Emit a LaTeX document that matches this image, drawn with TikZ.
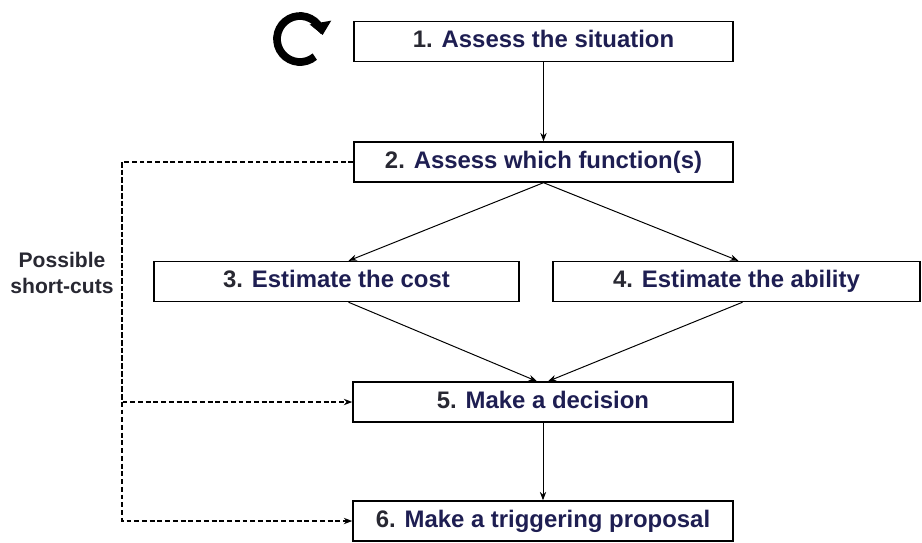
\documentclass[tikz,border=0pt]{standalone}
\usepackage{fontspec}
\setmainfont{Liberation Sans}
\usetikzlibrary{arrows.meta}
\definecolor{navy}{RGB}{30,30,82}
\definecolor{numgray}{RGB}{40,40,50}
\newcommand{\stepnum}[1]{{\color{numgray}#1}}
\begin{document}
\begin{tikzpicture}[x=0.025cm,y=0.025cm,>={Stealth[length=6pt,width=4.5pt]},line width=0.7pt,
  stepbox/.style={draw,line width=1pt,minimum height=1cm,inner sep=0pt,
    text height=12.5pt,text depth=3.5pt,
    font=\fontsize{17}{20}\selectfont\bfseries,text=navy},
  shortcut/.style={dash pattern=on 3.5pt off 2pt,line width=0.9pt}]
\useasboundingbox (0,0) rectangle (922,-542);

\node[stepbox,minimum width=9.475cm] (s1) at (543.5,-41.5) {\stepnum{1.} Assess the situation};
\node[stepbox,minimum width=9.475cm] (s2) at (543.5,-162) {\stepnum{2.} Assess which function(s)};
\node[stepbox,minimum width=9.125cm] (s3) at (336.5,-281.5) {\stepnum{3.} Estimate the cost};
\node[stepbox,minimum width=9.175cm] (s4) at (736.5,-281.5) {\stepnum{4.} Estimate the ability};
\node[stepbox,minimum width=9.5cm] (s5) at (543,-402) {\stepnum{5.} Make a decision};
\node[stepbox,minimum width=9.5cm] (s6) at (543,-521) {\stepnum{6.} Make a triggering proposal};
\node[align=center,font=\fontsize{15}{18}\selectfont\bfseries,text=numgray] (ps) at (62,-273) {Possible\\short-cuts};

% cycle symbol
\draw[line width=5.5pt,-{Triangle[length=9pt,width=15pt]}] (300,-39) ++(-50:23) arc[start angle=-50,end angle=-350,radius=23];

\draw[->] (s1) -- (s2);
\draw[->] (s2.south) -- ([xshift=0.3cm]s3.north);
\draw[->] (s2.south) -- ([xshift=0.05cm]s4.north);
\draw[->] ([xshift=0.3cm]s3.south) -- ([xshift=-0.15cm]s5.north);
\draw[->] ([xshift=0.15cm]s4.south) -- ([xshift=0.125cm]s5.north);
\draw[->] (s5) -- (s6);

% short-cuts
\coordinate (sc) at (122,-162);
\draw[shortcut,->] (s2.west) -- (sc) |- (s5.west);
\draw[shortcut,->] (sc) |- (s6.west);
\end{tikzpicture}
\end{document}
